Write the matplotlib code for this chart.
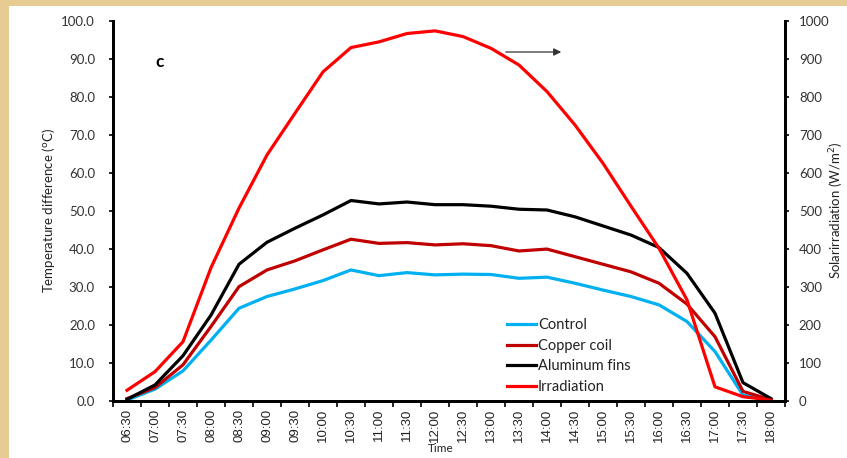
import matplotlib.pyplot as plt
from matplotlib.patches import Rectangle
from matplotlib.ticker import MultipleLocator, FixedLocator
import numpy as np

times = ['06:30', '07:00', '07:30', '08:00', '08:30', '09:00', '09:30', '10:00',
         '10:30', '11:00', '11:30', '12:00', '12:30', '13:00', '13:30', '14:00',
         '14:30', '15:00', '15:30', '16:00', '16:30', '17:00', '17:30', '18:00']

# temperature difference (deg C)
control = [0.1, 3.0, 7.8, 15.9, 24.3, 27.4, 29.4, 31.6, 34.4, 32.9, 33.7, 33.1,
           33.3, 33.2, 32.2, 32.5, 30.9, 29.1, 27.4, 25.2, 20.8, 12.9, 1.4, 0.2]
copper_coil = [0.5, 3.4, 9.4, 19.5, 30.0, 34.4, 36.8, 39.7, 42.5, 41.4, 41.6, 41.0,
               41.3, 40.8, 39.4, 39.9, 37.9, 35.9, 33.9, 30.9, 25.4, 16.8, 2.4, 0.2]
aluminum_fins = [0.3, 4.1, 11.8, 22.5, 35.9, 41.7, 45.4, 48.9, 52.7, 51.8, 52.3, 51.6,
                 51.6, 51.2, 50.4, 50.2, 48.4, 46.0, 43.6, 40.3, 33.5, 23.0, 4.7, 0.5]

# solar irradiation (W/m2)
irradiation = [27, 76, 155, 350, 507, 647, 757, 866, 930, 945, 967, 974,
               959, 928, 884, 814, 726, 625, 512, 401, 265, 36, 10, 1]

W, H = 847, 458
fig = plt.figure(figsize=(W / 100, H / 100), dpi=100)
fig.patch.set_facecolor('#E6CB92')
fig.patches.append(Rectangle((9 / W, 0), 1, (H - 6) / H, transform=fig.transFigure,
                             facecolor='white', edgecolor='none', zorder=-10))

calibri = ['Lato', 'DejaVu Sans']
arial = ['Liberation Sans', 'DejaVu Sans']

ax = fig.add_axes([113 / W, (H - 400.5) / H, (785 - 113) / W, 379.5 / H])
ax.set_facecolor('none')
ax2 = ax.twinx()

x = np.arange(len(times))
ax.plot(x, control, color='#00B0F0', lw=2.3, label='Control')
ax.plot(x, copper_coil, color='#C00000', lw=2.3, label='Copper coil')
ax.plot(x, aluminum_fins, color='black', lw=2.3, label='Aluminum fins')
ax2.plot(x, irradiation, color='#FF0000', lw=2.3, label='Irradiation')

ax.set_xlim(-0.5, len(times) - 0.5)
ax.set_ylim(0, 100)
ax2.set_ylim(0, 1000)

# category labels in the middle, tick marks on the boundaries
ax.xaxis.set_major_locator(FixedLocator(x))
ax.set_xticklabels(times, rotation=90, family=arial, fontsize=9.5, color='#222222')
ax.tick_params(axis='x', which='major', length=0, pad=6)
ax.xaxis.set_minor_locator(FixedLocator(np.arange(-0.5, len(times), 1)))
ax.tick_params(axis='x', which='minor', length=4, width=1.2, direction='out')

ax.yaxis.set_major_locator(MultipleLocator(10))
ax.set_yticklabels([f'{v:.1f}' for v in ax.get_yticks()], family=calibri,
                   fontsize=9.5, color='#333333')
ax.tick_params(axis='y', length=3, width=1.2, pad=10)
ax2.yaxis.set_major_locator(MultipleLocator(100))
ax2.set_yticklabels([f'{v:.0f}' for v in ax2.get_yticks()], family=calibri,
                    fontsize=9.5, color='#333333')
ax2.tick_params(axis='y', length=3, width=1.2, pad=7)

for a in (ax, ax2):
    a.spines['top'].set_visible(False)
    for s in ('left', 'right', 'bottom'):
        a.spines[s].set_linewidth(2)

ax.set_ylabel('Temperature difference ($^{\\mathrm{o}}$C)', family=calibri,
              fontsize=9.5, color='#222222')
ax.yaxis.set_label_coords(-0.083, 0.5)
ax2.set_ylabel('Solarirradiation (W/m$^{2}$)', family=calibri, fontsize=9.5,
               color='#222222', rotation=90, va='center')
ax2.yaxis.set_label_coords((837 - 113) / (785 - 113), 0.5)
ax.set_xlabel('Time', family=calibri, fontsize=8.5, color='#222222', va='center')
ax.xaxis.set_label_coords((441 - 113) / (785 - 113), -(449 - 400.5) / 379.5)

fig.text(160 / W, 1 - 62 / H, 'c', family=calibri, fontsize=12.5, fontweight='bold',
         ha='center', va='center')

# arrow pointing to the irradiation axis
ax.annotate('', xy=(564, H - 52), xytext=(503, H - 52),
            xycoords='figure pixels', textcoords='figure pixels',
            arrowprops=dict(arrowstyle='-|>', color='#333333', lw=0.9,
                            mutation_scale=11))

h1, l1 = ax.get_legend_handles_labels()
h2, l2 = ax2.get_legend_handles_labels()
leg = ax2.legend(h1 + h2, l1 + l2, loc='upper left',
                 bbox_to_anchor=(500 / W, 1 - 311 / H),
                 bbox_transform=fig.transFigure, frameon=False,
                 prop={'family': calibri, 'size': 10.5}, handlelength=2.0,
                 handletextpad=0.1, labelspacing=0.45, borderpad=0)
for t in leg.get_texts():
    t.set_color('#222222')

fig.savefig('out.png', dpi=100, facecolor=fig.get_facecolor())
